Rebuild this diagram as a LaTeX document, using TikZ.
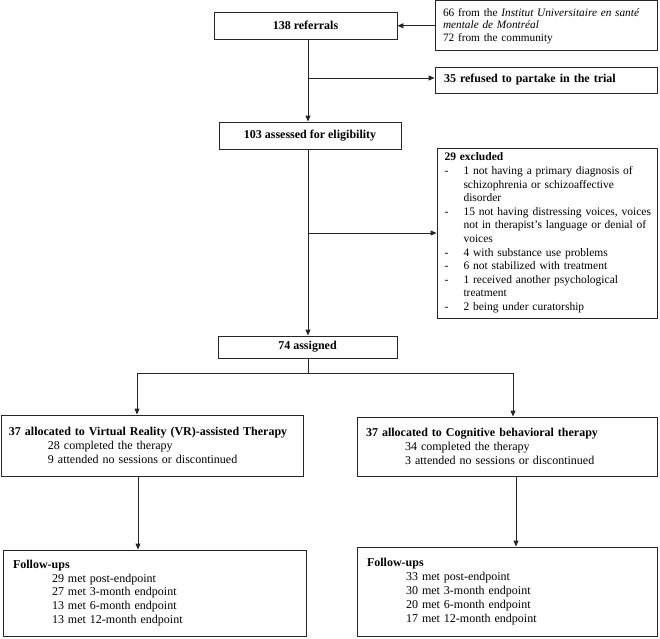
\documentclass[tikz,border=0pt]{standalone}
\usepackage{fontspec}
\setmainfont{Liberation Serif}
\usetikzlibrary{arrows.meta}
\newcommand\itm[1]{\mbox{\makebox[19pt][l]{-}#1}}
\newcommand\cnt[1]{\mbox{\hspace*{19pt}#1}}
\newcommand\sub{\hspace*{39pt}}
\begin{document}
\begin{tikzpicture}[x=1pt,y=-1pt,
  box/.style={draw=black!85, line width=0.9pt, rectangle, inner ysep=0pt,
    font=\fontsize{12}{13.8}\selectfont},
  cbox/.style={box, align=center, inner xsep=0pt, font=\fontsize{12}{13.8}\selectfont\bfseries},
  lbox/.style={box, align=left},
  conn/.style={draw=black!85, line width=0.9pt},
  arr/.style={conn, -{Triangle[length=6pt,width=5pt]}}
]
\useasboundingbox (0,0) rectangle (660,638);

% boxes
\node[cbox, minimum width=183pt, minimum height=27pt] (ref) at (305.5,25.5) {138 referrals};
\node[lbox, inner xsep=8pt, text width=206pt, minimum height=50pt,
      font=\fontsize{11.3}{12.5}\selectfont] (src) at (546,25.75)
  {66 from the \textit{Institut Universitaire en santé}\\ \textit{mentale de Montréal}\\ 72 from the community};
\node[lbox, inner xsep=9pt, text width=204pt, minimum height=26pt, font=\fontsize{12}{13.8}\selectfont\bfseries] (refused) at (546,80)
  {35 refused to partake in the trial};
\node[cbox, minimum width=182pt, minimum height=27pt] (assess) at (310,135.5) {103 assessed for eligibility};
\node[lbox, inner xsep=7.5pt, text width=205pt, minimum height=170pt,
      font=\fontsize{11.5}{13.6}\selectfont] (excl) at (547,233)
  {\textbf{29 excluded}\\
   \itm{1 not having a primary diagnosis of}\\
   \cnt{schizophrenia or schizoaffective}\\
   \cnt{disorder}\\
   \itm{15 not having distressing voices, voices}\\
   \cnt{not in therapist’s language or denial of}\\
   \cnt{voices}\\
   \itm{4 with substance use problems}\\
   \itm{6 not stabilized with treatment}\\
   \itm{1 received another psychological}\\
   \cnt{treatment}\\
   \itm{2 being under curatorship}};
\node[cbox, minimum width=179pt, minimum height=22pt] (assign) at (307.5,347) {74 assigned};
\node[lbox, inner xsep=8pt, text width=286pt, minimum height=61pt] (vr) at (152,445.5)
  {\textbf{37 allocated to Virtual Reality (VR)-assisted Therapy}\\
   \sub 28 completed the therapy\\
   \sub 9 attended no sessions or discontinued};
\node[lbox, inner xsep=9pt, text width=282pt, minimum height=59pt] (cbt) at (507,446.5)
  {\textbf{37 allocated to Cognitive behavioral therapy}\\
   \sub 34 completed the therapy\\
   \sub 3 attended no sessions or discontinued};
\node[lbox, inner xsep=10pt, text width=283pt, minimum height=86pt] (fu1) at (154.5,593)
  {\textbf{Follow-ups}\\
   \sub 29 met post-endpoint\\
   \sub 27 met 3-month endpoint\\
   \sub 13 met 6-month endpoint\\
   \sub 13 met 12-month endpoint};
\node[lbox, inner xsep=10pt, text width=280pt, minimum height=89pt] (fu2) at (507,591.5)
  {\textbf{Follow-ups}\\
   \sub 33 met post-endpoint\\
   \sub 30 met 3-month endpoint\\
   \sub 20 met 6-month endpoint\\
   \sub 17 met 12-month endpoint};

% helper coordinates
\coordinate (m) at (308,0);
\coordinate (b1) at (308,78);
\coordinate (b2) at (308,233);
\coordinate (s) at (308,373);
\coordinate (sl) at (137,373);
\coordinate (sr) at (513,373);
\coordinate (dl) at (138,0);
\coordinate (dr) at (516,0);

% connectors
\draw[arr] (src.west) -- (src.west -| ref.east);
\draw[arr] (ref.south -| m) -- (assess.north -| m);
\draw[arr] (b1) -- (b1 -| refused.west);
\draw[arr] (assess.south -| m) -- (assign.north -| m);
\draw[arr] (b2) -- (b2 -| excl.west);
\draw[conn] (assign.south -| m) -- (s);
\draw[arr] (s) -- (sl) -- (vr.north -| sl);
\draw[arr] (s) -- (sr) -- (cbt.north -| sr);
\draw[arr] (vr.south -| dl) -- (fu1.north -| dl);
\draw[arr] (cbt.south -| dr) -- (fu2.north -| dr);
\end{tikzpicture}
\end{document}
